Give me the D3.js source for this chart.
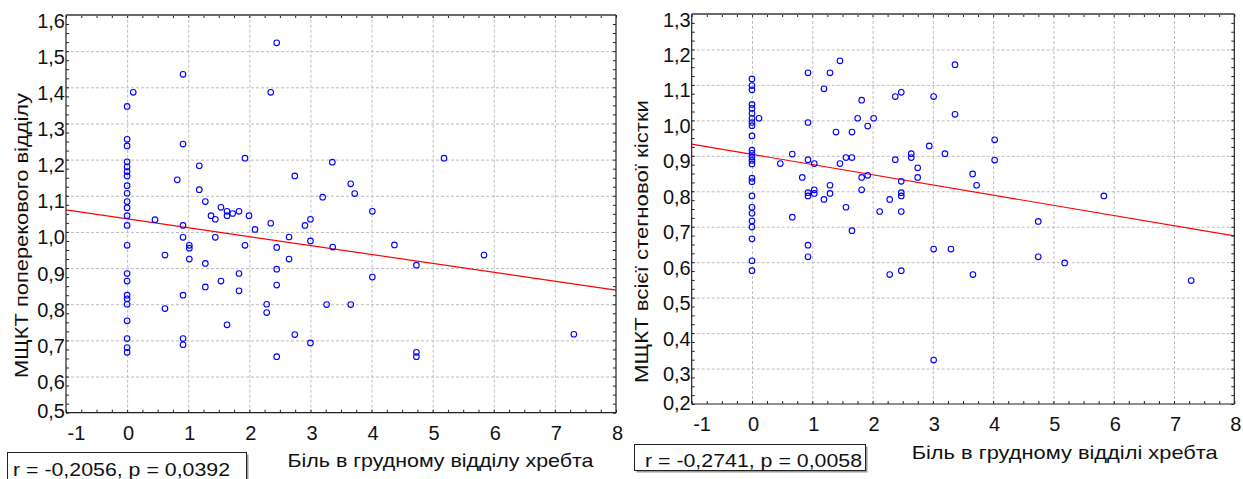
<!DOCTYPE html>
<html>
<head>
<meta charset="utf-8">
<script src="https://cdn.jsdelivr.net/npm/d3@7"></script>
<style>
body { margin: 0; background: #fff; }
svg { display: block; font-family: "Liberation Sans", Arial, sans-serif; }
</style>
</head>
<body>
<svg width="1243" height="479"></svg>
<script>
// ---- data ----
const xTicks = [-1, 0, 1, 2, 3, 4, 5, 6, 7, 8];
const yTicksLumbar = [0.5, 0.6, 0.7, 0.8, 0.9, 1.0, 1.1, 1.2, 1.3, 1.4, 1.5, 1.6];
const yTicksFemur = [0.2, 0.3, 0.4, 0.5, 0.6, 0.7, 0.8, 0.9, 1.0, 1.1, 1.2, 1.3];

// left chart: pain vs lumbar BMD
const painLumbar = [
    0, 0, 0, 0, 0, 0, 0, 0, 0, 0, 0, 0, 0, 0, 0, 0, 0, 0, 0, 0, 0, 0, 0,
    0.10, 0.456, 0.62, 0.62, 0.821,
    0.915, 0.915, 0.915, 0.915, 0.915, 0.915, 0.915,
    1.018, 1.018, 1.018, 1.181, 1.181, 1.28, 1.28, 1.28, 1.373, 1.443, 1.443,
    1.536, 1.536, 1.635, 1.635, 1.635, 1.728, 1.831, 1.831, 1.831, 1.929, 1.929,
    1.995, 2.093, 2.284, 2.284, 2.35, 2.35, 2.448, 2.448, 2.448, 2.448, 2.448,
    2.65, 2.65, 2.744, 2.744, 2.91, 3.0, 3.0, 3.0, 3.2, 3.265, 3.358, 3.364,
    3.659, 3.659, 3.724, 4.013, 4.013, 4.374, 4.734, 4.734, 4.734, 5.186, 5.84, 7.31
];
const bmdLumbar = [
    1.347, 1.256, 1.238, 1.194, 1.180, 1.167, 1.155, 1.128, 1.107, 1.084, 1.067, 1.045,
    1.018, 0.963, 0.885, 0.864, 0.825, 0.815, 0.800, 0.754, 0.705, 0.680, 0.667,
    1.386, 1.034, 0.936, 0.788, 1.144,
    1.436, 1.243, 1.018, 0.985, 0.825, 0.705, 0.688,
    0.963, 0.955, 0.925, 1.183, 1.117, 1.084, 0.913, 0.848, 1.045, 1.035, 0.985,
    1.068, 0.864, 1.057, 1.045, 0.743, 1.051, 1.057, 0.885, 0.837, 1.204, 0.963,
    1.045, 1.007, 0.800, 0.777, 1.386, 1.024, 1.523, 0.957, 0.897, 0.853, 0.655,
    0.986, 0.925, 1.155, 0.716, 1.018, 1.035, 0.975, 0.693, 1.096, 0.799, 1.193, 0.958,
    1.133, 0.799, 1.106, 1.057, 0.875, 0.964, 0.908, 0.667, 0.655, 1.204, 0.936, 0.717
];
const regXLumbar = [-1, 8];
const regYLumbar = [1.061, 0.839];

// right chart: pain vs whole femur BMD
const painFemur = [
    0, 0, 0, 0, 0, 0, 0, 0, 0, 0, 0, 0, 0, 0, 0, 0, 0, 0, 0, 0, 0, 0, 0, 0, 0,
    0.116, 0.47, 0.668, 0.668, 0.834,
    0.929, 0.929, 0.929, 0.929, 0.929, 0.929, 0.929,
    1.033, 1.033, 1.033, 1.194, 1.194, 1.294, 1.294, 1.294, 1.393, 1.459, 1.459,
    1.559, 1.559, 1.658, 1.658, 1.658, 1.753, 1.819, 1.819, 1.819, 1.919, 1.919,
    2.018, 2.118, 2.284, 2.284, 2.377, 2.377,
    2.476, 2.476, 2.476, 2.476, 2.476, 2.476, 2.642, 2.642, 2.748, 2.748, 2.94,
    3.013, 3.013, 3.013, 3.20, 3.30, 3.367, 3.367, 3.66, 3.665, 3.726, 4.025, 4.025,
    4.748, 4.748, 5.186, 5.837, 7.285
];
const bmdFemur = [
    1.117, 1.098, 1.086, 1.045, 1.034, 1.020, 1.006, 0.994, 0.985, 0.956, 0.916, 0.907,
    0.897, 0.887, 0.877, 0.837, 0.827, 0.787, 0.755, 0.738, 0.716, 0.699, 0.666, 0.604, 0.576,
    1.006, 0.878, 0.905, 0.727, 0.839,
    1.134, 0.994, 0.889, 0.796, 0.787, 0.648, 0.615,
    0.878, 0.804, 0.794, 1.089, 0.777, 1.134, 0.817, 0.794, 0.967, 1.168, 0.878,
    0.895, 0.755, 0.967, 0.895, 0.689, 1.006, 1.057, 0.839, 0.804, 0.984, 0.845,
    1.006, 0.743, 0.777, 0.565, 1.067, 0.889,
    1.079, 0.828, 0.796, 0.787, 0.743, 0.576, 0.906, 0.895, 0.866, 0.839, 0.928,
    1.067, 0.637, 0.324, 0.906, 0.637, 1.157, 1.017, 0.849, 0.565, 0.817, 0.945, 0.888,
    0.715, 0.615, 0.598, 0.787, 0.548
];
const regXFemur = [-1, 8];
const regYFemur = [0.933, 0.674];

const statR = [-0.2056, -0.2741];
const statP = [0.0392, 0.0058];

const xTitles = ["Біль в грудному відділу хребта", "Біль в грудному відділі хребта"];
const yTitles = ["МЩКТ поперекового відділу", "МЩКТ всієї стегнової кістки"];

// ---- drawing ----
const locale = d3.formatLocale({decimal: ",", thousands: " ", grouping: [3], currency: ["", ""], minus: "-"});
const fmt1 = locale.format(".1f");
const fmt4 = locale.format(".4f");
const FONT = "Liberation Sans, Arial, sans-serif";

const svg = d3.select("svg");

const drawPanel = (p) => {
    const w = p.x1 - p.x0;
    const h = p.y1 - p.y0;
    const g = svg.append("g").attr("transform", `translate(${p.x0},${p.y0})`);

    const scX = d3.scaleLinear().domain([-1, 8]).range([0, w]);
    const scY = d3.scaleLinear().domain(d3.extent(p.yTicks)).range([h, 0]);

    // grid
    g.append("g")
     .attr("transform", `translate(0,${h})`)
     .call(d3.axisBottom(scX).tickValues(xTicks.slice(1, -1)).tickSize(-h).tickFormat(""))
     .call(a => a.select(".domain").remove())
     .selectAll("line")
     .attr("stroke", "#bdbdbd")
     .attr("stroke-dasharray", "3,2");
    g.append("g")
     .call(d3.axisLeft(scY).tickValues(p.yTicks.slice(1, -1)).tickSize(-w).tickFormat(""))
     .call(a => a.select(".domain").remove())
     .selectAll("line")
     .attr("stroke", "#bdbdbd")
     .attr("stroke-dasharray", "3,2");

    // regression line
    const regData = p.regX.map((x, i) => [x, p.regY[i]]);
    g.append("path")
     .datum(regData)
     .attr("d", d3.line().x(d => scX(d[0])).y(d => scY(d[1])))
     .attr("fill", "none")
     .attr("stroke", "#ff0000")
     .attr("stroke-width", 1.2);

    // points
    g.selectAll(".dot")
     .data(p.xs.map((x, i) => [x, p.ys[i]]))
     .enter()
     .append("circle")
     .attr("cx", d => scX(d[0]))
     .attr("cy", d => scY(d[1]))
     .attr("r", 2.8)
     .attr("fill", "none")
     .attr("stroke", "#0000ff")
     .attr("stroke-width", 1.1);

    // inner ticks on all four sides
    const minorX = d3.range(-1, 8.001, 0.25);
    const minorY = d3.range(p.yTicks[0], p.yTicks[p.yTicks.length - 1] + 0.001, 0.025);
    const tickStyle = a => a.selectAll("line").attr("stroke", "#222");
    g.append("g").attr("transform", `translate(0,${h})`)
     .call(d3.axisBottom(scX).tickValues(minorX).tickSize(-3).tickFormat(""))
     .call(a => a.select(".domain").remove()).call(tickStyle);
    g.append("g")
     .call(d3.axisTop(scX).tickValues(minorX).tickSize(-3).tickFormat(""))
     .call(a => a.select(".domain").remove()).call(tickStyle);
    g.append("g")
     .call(d3.axisLeft(scY).tickValues(minorY).tickSize(-3).tickFormat(""))
     .call(a => a.select(".domain").remove()).call(tickStyle);
    g.append("g").attr("transform", `translate(${w},0)`)
     .call(d3.axisRight(scY).tickValues(minorY).tickSize(-3).tickFormat(""))
     .call(a => a.select(".domain").remove()).call(tickStyle);

    // frame
    g.append("line").attr("x1", 0).attr("x2", w).attr("y1", 0).attr("y2", 0)
     .attr("stroke", "#6a6a6a").attr("stroke-width", 2);
    g.append("line").attr("x1", w).attr("x2", w).attr("y1", 0).attr("y2", h)
     .attr("stroke", "#222").attr("stroke-width", 1.2);
    g.append("line").attr("x1", 0).attr("x2", 0).attr("y1", 0).attr("y2", h)
     .attr("stroke", "#222").attr("stroke-width", 1.2);
    g.append("line").attr("x1", 0).attr("x2", w).attr("y1", h).attr("y2", h)
     .attr("stroke", "#222").attr("stroke-width", 1.2);

    // tick labels
    const axX = g.append("g").attr("transform", `translate(0,${h})`)
     .call(d3.axisBottom(scX).tickValues(xTicks).tickSize(0).tickPadding(0).tickFormat(d => d < 0 ? "-" + Math.abs(d) : d));
    axX.select(".domain").remove();
    axX.selectAll("text")
     .attr("font-size", 20).attr("font-family", FONT)
     .attr("fill", "#111").attr("dy", 0).attr("y", 27)
     .attr("text-anchor", (d, i) => i == 0 ? "start" : "middle")
     .attr("x", (d, i) => i == 0 ? 1 : 1);

    const axY = g.append("g")
     .call(d3.axisLeft(scY).tickValues(p.yTicks).tickSize(0).tickPadding(1).tickFormat(fmt1));
    axY.select(".domain").remove();
    axY.selectAll("text")
     .attr("font-size", 20).attr("font-family", FONT)
     .attr("fill", "#111")
     .attr("dy", "0.35em")
     .attr("y", d => Math.min(5, h - 2 - scY(d)));

    // axis titles
    svg.append("text")
       .attr("x", p.x0 + p.xTitleDx).attr("y", p.y1 + p.xTitleDy)
       .attr("font-size", 19).attr("fill", "#111")
       .attr("textLength", p.xTitleLen).attr("lengthAdjust", "spacingAndGlyphs")
       .text(p.xTitle);
    svg.append("text")
       .attr("transform", `translate(${p.yTitleX},${p.yTitleY}) rotate(-90)`)
       .attr("font-size", 19).attr("fill", "#111")
       .attr("textLength", p.yTitleLen).attr("lengthAdjust", "spacingAndGlyphs")
       .text(p.yTitle);

    // stats box
    const b = p.box;
    svg.append("rect")
       .attr("x", b.x + 2).attr("y", b.y + 2).attr("width", b.w).attr("height", b.h)
       .attr("fill", "#9a9a9a");
    svg.append("rect")
       .attr("x", b.x).attr("y", b.y).attr("width", b.w).attr("height", b.h)
       .attr("fill", "#fff").attr("stroke", "#222").attr("stroke-width", 1);
    svg.append("text")
       .attr("x", b.tx).attr("y", b.ty)
       .attr("font-size", 19).attr("fill", "#111")
       .attr("textLength", 217).attr("lengthAdjust", "spacingAndGlyphs")
       .text(`r = ${fmt4(p.r)}, p = ${fmt4(p.p)}`);
}

drawPanel({
    x0: 66, x1: 616, y0: 15, y1: 412.7,
    yTicks: yTicksLumbar, xs: painLumbar, ys: bmdLumbar,
    regX: regXLumbar, regY: regYLumbar,
    xTitle: xTitles[0], yTitle: yTitles[0],
    xTitleDx: 221.5, xTitleDy: 54.5, xTitleLen: 306,
    yTitleX: 28, yTitleY: 378, yTitleLen: 285,
    r: statR[0], p: statP[0],
    box: {x: 7.5, y: 452.5, w: 239, h: 40, tx: 13, ty: 476}
});

drawPanel({
    x0: 691.7, x1: 1234.3, y0: 14, y1: 404,
    yTicks: yTicksFemur, xs: painFemur, ys: bmdFemur,
    regX: regXFemur, regY: regYFemur,
    xTitle: xTitles[1], yTitle: yTitles[1],
    xTitleDx: 220, xTitleDy: 54.5, xTitleLen: 306,
    yTitleX: 648, yTitleY: 383, yTitleLen: 283,
    r: statR[1], p: statP[1],
    box: {x: 634.5, y: 444.5, w: 231, h: 26, tx: 645, ty: 466.5}
});
</script>
</body>
</html>
